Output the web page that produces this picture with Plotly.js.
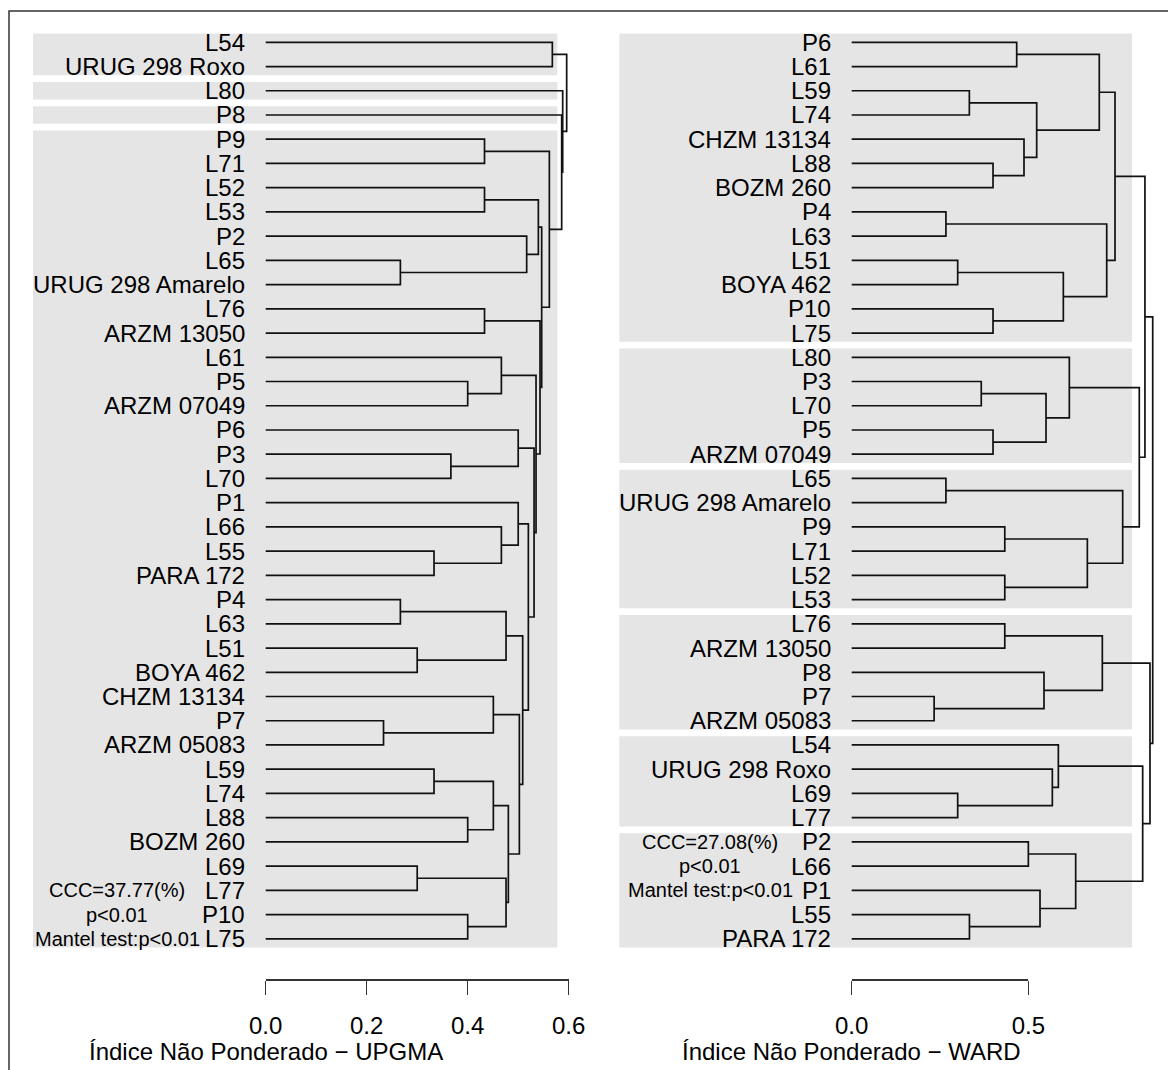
<!DOCTYPE html>
<html><head><meta charset="utf-8">
<script src="https://cdn.plot.ly/plotly-3.0.1.min.js"></script>
<style>html,body{margin:0;padding:0;background:#fff}#chart{width:1168px;height:1070px}</style>
</head><body><div id="chart"></div>
<script>
// ---------------- DATA ----------------
// UPGMA dendrogram (left): leaf order, top to bottom
const upgmaLabels = ["L54","URUG 298 Roxo","L80","P8","P9","L71","L52","L53","P2","L65","URUG 298 Amarelo","L76","ARZM 13050","L61","P5","ARZM 07049","P6","P3","L70","P1","L66","L55","PARA 172","P4","L63","L51","BOYA 462","CHZM 13134","P7","ARZM 05083","L59","L74","L88","BOZM 260","L69","L77","P10","L75"];
// merges: child A, child B (leaf label or earlier merge number, 1-based), merge height
const upgmaMergeA = ["L54","P9","L52","L65","P2",3,"L76","P5","L61","P3","P6","L55","L66","P1","P4","L51",15,"P7","CHZM 13134","L59","L88",20,"L69","P10",23,22,19,17,14,11,9,7,6,2,"P8","L80",1];
const upgmaMergeB = ["URUG 298 Roxo","L71","L53","URUG 298 Amarelo",4,5,"ARZM 13050","ARZM 07049",8,"L70",10,"PARA 172",12,13,"L63","BOYA 462",16,"ARZM 05083",18,"L74","BOZM 260",21,"L77","L75",24,25,26,27,28,29,30,31,32,33,34,35,36];
const upgmaHeight = [0.5676,0.4333,0.4333,0.2667,0.5168,0.5399,0.4333,0.4,0.4667,0.3667,0.5,0.3333,0.4667,0.5,0.2667,0.3,0.4759,0.2333,0.4508,0.3333,0.4,0.4508,0.3,0.4,0.4759,0.4805,0.5023,0.5089,0.5201,0.5314,0.5353,0.5432,0.5465,0.5617,0.5861,0.5881,0.5960];
const upgmaGroupFirst = ["L54","L80","P8","P9"];
const upgmaGroupLast  = ["URUG 298 Roxo","L80","P8","L75"];
const upgmaTicks = [0, 0.2, 0.4, 0.6];
const upgmaStats = ["CCC=37.77(%)","p<0.01","Mantel test:p<0.01"];
const upgmaStatRows = ["L77","P10","L75"];
const upgmaTitle = "Índice Não Ponderado − UPGMA";

// WARD dendrogram (right)
const wardLabels = ["P6","L61","L59","L74","CHZM 13134","L88","BOZM 260","P4","L63","L51","BOYA 462","P10","L75","L80","P3","L70","P5","ARZM 07049","L65","URUG 298 Amarelo","P9","L71","L52","L53","L76","ARZM 13050","P8","P7","ARZM 05083","L54","URUG 298 Roxo","L69","L77","P2","L66","P1","L55","PARA 172"];
const wardMergeA = ["P6","L59","L88","CHZM 13134",2,1,"P4","L51","P10",8,7,6,"P3","P5",13,"L80","L65","P9","L52",18,17,16,12,"L76","P7","P8",24,"L69","URUG 298 Roxo","L54","P2","L55","P1",31,30,27,23];
const wardMergeB = ["L61","L74","BOZM 260",3,4,5,"L63","BOYA 462","L75",9,10,11,"L70","ARZM 07049",14,15,"URUG 298 Amarelo","L71","L53",19,20,21,22,"ARZM 13050","ARZM 05083",25,26,"L77",28,29,"L66","PARA 172",32,33,34,35,36];
const wardHeight = [0.467,0.333,0.4,0.4877,0.5236,0.7008,0.2667,0.3,0.4,0.599,0.7218,0.7453,0.3667,0.4,0.55,0.616,0.2667,0.4333,0.4333,0.667,0.767,0.814,0.830,0.4333,0.2333,0.5443,0.7094,0.3,0.5679,0.5849,0.5,0.3333,0.533,0.634,0.8236,0.8443,0.852];
const wardGroupFirst = ["P6","L80","L65","L76","L54","P2"];
const wardGroupLast  = ["L75","ARZM 07049","L53","ARZM 05083","L77","PARA 172"];
const wardTicks = [0, 0.5];
const wardStats = ["CCC=27.08(%)","p<0.01","Mantel test:p<0.01"];
const wardStatRows = ["P2","L66","P1"];
const wardTitle = "Índice Não Ponderado − WARD";

// ---------------- LAYOUT CONSTANTS (pixels) ----------------
const W = 1168, H = 1070;
const rowTop = 42.3, rowStep = 24.23;
const FONT = "Liberation Sans, Arial, Helvetica, sans-serif";
const panels = [
  {labels: upgmaLabels, A: upgmaMergeA, B: upgmaMergeB, h: upgmaHeight, gF: upgmaGroupFirst, gL: upgmaGroupLast,
   ticks: upgmaTicks, stats: upgmaStats, statRows: upgmaStatRows, title: upgmaTitle,
   zeroPx: 265.7, ppu: 505, dom: [0, 584], rectPx: [33, 557.3], statPx: 117},
  {labels: wardLabels, A: wardMergeA, B: wardMergeB, h: wardHeight, gF: wardGroupFirst, gL: wardGroupLast,
   ticks: wardTicks, stats: wardStats, statRows: wardStatRows, title: wardTitle,
   zeroPx: 851.7, ppu: 353.3, dom: [584, 1168], rectPx: [619.3, 1132], statPx: 710}
];
const axisPx = 979;

const traces = [], shapes = [], annotations = [];
const layout = {
  width: W, height: H, margin: {l:0, r:0, t:0, b:0},
  paper_bgcolor: "#ffffff", plot_bgcolor: "rgba(0,0,0,0)", showlegend: false,
  font: {family: FONT, color: "#000"},
  yaxis: {domain: [0,1], range: [(H-rowTop)/rowStep, -rowTop/rowStep], visible: false, fixedrange: true}
};

panels.forEach((p, k) => {
  const xa = k === 0 ? "x" : "x2";
  const xKey = k === 0 ? "xaxis" : "xaxis2";
  const toH = px => (px - p.zeroPx) / p.ppu;
  layout[xKey] = {domain: [p.dom[0]/W, p.dom[1]/W], range: [toH(p.dom[0]), toH(p.dom[1])],
                  visible: false, anchor: "y", fixedrange: true};
  const pos = {}; p.labels.forEach((l, i) => pos[l] = i);
  const nodes = [];
  const get = r => typeof r === "string" ? {y: pos[r], h: 0} : nodes[r - 1];
  const xs = [], ys = [];
  for (let m = 0; m < p.h.length; m++) {
    const a = get(p.A[m]), b = get(p.B[m]), hh = p.h[m];
    xs.push(a.h, hh, hh, b.h, null);
    ys.push(a.y, a.y, b.y, b.y, null);
    nodes.push({y: (a.y + b.y) / 2, h: hh});
  }
  traces.push({type: "scatter", mode: "lines", x: xs, y: ys, xaxis: xa, yaxis: "y",
               line: {color: "#111", width: 1.7}, hoverinfo: "skip"});
  // grey cluster rectangles
  p.gF.forEach((f, g) => {
    shapes.push({type: "rect", xref: xa, yref: "y", layer: "below",
      x0: toH(p.rectPx[0]), x1: toH(p.rectPx[1]),
      y0: pos[f] - 0.36, y1: pos[p.gL[g]] + 0.36,
      fillcolor: "#e5e5e5", line: {width: 0}});
  });
  // leaf labels
  p.labels.forEach((l, i) => {
    annotations.push({text: l, x: 0, y: i, xref: xa, yref: "y", xanchor: "right", yanchor: "middle",
      xshift: -19, showarrow: false, font: {size: 24, family: FONT, color: "#000"}});
  });
  // statistics text
  p.stats.forEach((s, j) => {
    annotations.push({text: s, x: toH(p.statPx), y: pos[p.statRows[j]], xref: xa, yref: "y",
      xanchor: "center", yanchor: "middle", showarrow: false, font: {size: 20, family: FONT, color: "#000"}});
  });
  // axis title, centered on 0 of the scale
  annotations.push({text: p.title, x: 0, xref: xa, y: (H - 1051)/H, yref: "paper",
    xanchor: "center", yanchor: "middle", showarrow: false, font: {size: 24, family: FONT, color: "#000"}});
  // scale axis (separate subplot spanning only the tick range)
  const n = k + 3;
  const tmax = p.ticks[p.ticks.length - 1];
  const yd = (H - axisPx) / H;
  layout["xaxis" + n] = {domain: [p.zeroPx / W, (p.zeroPx + tmax * p.ppu) / W], range: [0, tmax],
    anchor: "y" + n, side: "bottom", showline: true, linecolor: "#333", linewidth: 1.5,
    ticks: "outside", ticklen: 14, tickwidth: 1.5, tickcolor: "#333",
    tickvals: p.ticks, tickformat: ".1f", showgrid: false, zeroline: false,
    ticklabelstandoff: 11, tickfont: {size: 24, family: FONT, color: "#000"}, fixedrange: true};
  layout["yaxis" + n] = {domain: [yd, yd + 0.005], range: [0, 1], visible: false, anchor: "x" + n, fixedrange: true};
  traces.push({type: "scatter", mode: "none", x: [0, tmax], y: [0.5, 0.5], xaxis: "x" + n, yaxis: "y" + n, hoverinfo: "skip"});
});

// outer frame
shapes.push({type: "rect", xref: "paper", yref: "paper", x0: 9/W, x1: 1.02, y0: -0.02, y1: 1 - 11/H,
             line: {color: "#333", width: 1.5}, fillcolor: "rgba(0,0,0,0)", layer: "above"});

layout.shapes = shapes;
layout.annotations = annotations;
Plotly.newPlot("chart", traces, layout, {displayModeBar: false, staticPlot: true});
</script>
</body></html>
